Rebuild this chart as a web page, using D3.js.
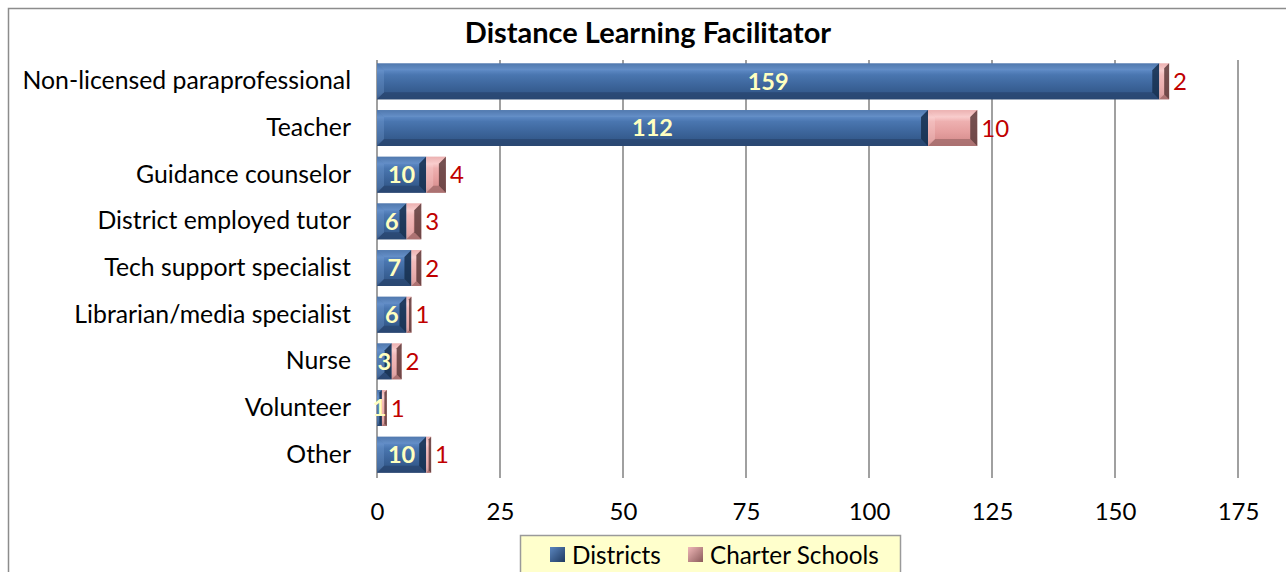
<!DOCTYPE html>
<html>
<head>
<meta charset="utf-8">
<script src="https://cdn.jsdelivr.net/npm/d3@7"></script>
<style>
  html, body { margin: 0; padding: 0; background: #fff; }
  svg { display: block; }
</style>
</head>
<body>
<svg id="chart" width="1286" height="572"></svg>
<script>
// Staff roles acting as distance learning facilitators
const categories = [
  "Non-licensed paraprofessional",
  "Teacher",
  "Guidance counselor",
  "District employed tutor",
  "Tech support specialist",
  "Librarian/media specialist",
  "Nurse",
  "Volunteer",
  "Other"
];
const districts = [159, 112, 10, 6, 7, 6, 3, 1, 10];
const charterSchools = [2, 10, 4, 3, 2, 1, 2, 1, 1];
const xTicks = [0, 25, 50, 75, 100, 125, 150, 175];
const seriesNames = ["Districts", "Charter Schools"];

const FONT = "Lato, 'Open Sans', sans-serif";
const svg = d3.select("#chart");

// Outer chart frame
svg.append("rect")
  .attr("x", 8.5).attr("y", 8.5)
  .attr("width", 1300).attr("height", 600)
  .attr("fill", "#fff").attr("stroke", "#8c8c8c").attr("stroke-width", 1.5);

const plot = { left: 377, right: 1238, top: 58, bottom: 478 };

const x = d3.scaleLinear().domain([0, 175]).range([plot.left, plot.right]);
const y = d3.scaleBand().domain(categories).range([plot.top, plot.bottom])
  .paddingInner(0.23).paddingOuter(0.115);

// Gradients for the bevelled bars
const defs = svg.append("defs");
function vGrad(id, stops) {
  const g = defs.append("linearGradient").attr("id", id)
    .attr("x1", 0).attr("y1", 0).attr("x2", 0).attr("y2", 1);
  stops.forEach(([o, c]) => g.append("stop").attr("offset", o).attr("stop-color", c));
}
vGrad("gBlue", [[0, "#3a6298"], [0.2, "#5b87c2"], [0.32, "#4a76b0"], [0.6, "#3d669c"], [0.85, "#33588a"], [1, "#243f66"]]);
vGrad("gPink", [[0, "#e39d9d"], [0.2, "#f8caca"], [0.32, "#eeb0b0"], [0.6, "#e6a0a0"], [0.85, "#d89090"], [1, "#b87676"]]);
function legendGrad(id, c1, c2) {
  const g = defs.append("linearGradient").attr("id", id)
    .attr("x1", 0).attr("y1", 0).attr("x2", 1).attr("y2", 1);
  g.append("stop").attr("offset", 0).attr("stop-color", c1);
  g.append("stop").attr("offset", 1).attr("stop-color", c2);
}
legendGrad("lBlue", "#5b86bf", "#1f3a60");
legendGrad("lPink", "#f0b8b8", "#8a5a5a");

// Vertical gridlines and the value axis labels
const grid = svg.append("g");
grid.selectAll("line").data(xTicks).join("line")
  .attr("x1", d => x(d)).attr("x2", d => x(d))
  .attr("y1", plot.top + 2).attr("y2", plot.bottom)
  .attr("stroke", "#a0a0a0").attr("stroke-width", 2);

const xAxis = svg.append("g")
  .attr("transform", `translate(0,${plot.bottom + 25})`)
  .call(d3.axisBottom(x).tickValues(xTicks).tickSize(0).tickPadding(0));
xAxis.select(".domain").remove();
xAxis.selectAll("text")
  .attr("font-family", FONT).attr("font-size", 24).attr("fill", "#000")
  .attr("dy", "0.71em");

// Category axis
const yAxis = svg.append("g")
  .attr("transform", `translate(${plot.left - 26},0)`)
  .call(d3.axisLeft(y).tickSize(0).tickPadding(0));
yAxis.select(".domain").remove();
yAxis.selectAll("text")
  .attr("font-family", FONT).attr("font-size", 24.8).attr("fill", "#000");

// A bar drawn with bevelled facets
function bevelBar(g, x0, y0, w, h, kind) {
  if (w <= 0) return;
  const b = Math.min(7, w / 2, h / 2);
  const bg = g.append("g");
  bg.append("rect").attr("x", x0).attr("y", y0).attr("width", w).attr("height", h)
    .attr("fill", kind === "blue" ? "url(#gBlue)" : "url(#gPink)");
  const pts = a => a.map(p => p.join(",")).join(" ");
  const x1 = x0 + w, y1 = y0 + h;
  const light = kind === "blue" ? "#7aa2d6" : "#fbd6d6";
  const dark = kind === "blue" ? "#18304f" : "#5e3c3c";
  const mid = kind === "blue" ? "#2a4873" : "#a87070";
  bg.append("polygon").attr("points", pts([[x0, y0], [x1, y0], [x1 - b, y0 + b], [x0 + b, y0 + b]]))
    .attr("fill", light).attr("opacity", 0.35);
  bg.append("polygon").attr("points", pts([[x0, y1], [x1, y1], [x1 - b, y1 - b], [x0 + b, y1 - b]]))
    .attr("fill", mid).attr("opacity", 0.9);
  bg.append("polygon").attr("points", pts([[x0, y0], [x0 + b, y0 + b], [x0 + b, y1 - b], [x0, y1]]))
    .attr("fill", light).attr("opacity", 0.3);
  bg.append("polygon").attr("points", pts([[x1, y0], [x1 - b, y0 + b], [x1 - b, y1 - b], [x1, y1]]))
    .attr("fill", dark).attr("opacity", 0.85);
}

const bars = svg.append("g");
categories.forEach((c, i) => {
  const y0 = y(c), h = y.bandwidth();
  const d = districts[i], cs = charterSchools[i];
  bevelBar(bars, x(0), y0, x(d) - x(0), h, "blue");
  bevelBar(bars, x(d), y0, x(d + cs) - x(d), h, "pink");
});

// Value labels
const labels = svg.append("g").attr("font-family", FONT);
labels.selectAll("text.dist").data(categories).join("text")
  .attr("class", "dist")
  .attr("x", (c, i) => (x(0) + x(districts[i])) / 2)
  .attr("y", c => y(c) + y.bandwidth() / 2)
  .attr("dy", "0.36em")
  .attr("text-anchor", "middle")
  .attr("font-size", 23.5).attr("font-weight", "bold").attr("fill", "#ffffc0")
  .text((c, i) => districts[i]);
labels.selectAll("text.chart").data(categories).join("text")
  .attr("class", "chart")
  .attr("x", (c, i) => x(districts[i] + charterSchools[i]) + 4)
  .attr("y", c => y(c) + y.bandwidth() / 2)
  .attr("dy", "0.36em")
  .attr("font-size", 24).attr("fill", "#c00000")
  .text((c, i) => charterSchools[i]);

// Title
svg.append("text")
  .attr("x", 648).attr("y", 43)
  .attr("text-anchor", "middle")
  .attr("font-family", FONT).attr("font-size", 29).attr("font-weight", "bold")
  .text("Distance Learning Facilitator");

// Legend
const lg = svg.append("g").attr("transform", "translate(520,535)");
lg.append("rect").attr("x", 0.5).attr("y", 0.5).attr("width", 380).attr("height", 50)
  .attr("fill", "#ffffcc").attr("stroke", "#9a9a9a").attr("stroke-width", 1.5);
const items = [
  { name: seriesNames[0], fill: "url(#lBlue)", mx: 30, tx: 52 },
  { name: seriesNames[1], fill: "url(#lPink)", mx: 168, tx: 190 }
];
items.forEach(it => {
  lg.append("rect").attr("x", it.mx).attr("y", 12).attr("width", 15).attr("height", 15)
    .attr("fill", it.fill);
  lg.append("text").attr("x", it.tx).attr("y", 20).attr("dy", "0.36em")
    .attr("font-family", FONT).attr("font-size", 24.3).attr("fill", "#000")
    .text(it.name);
});
</script>
</body>
</html>
